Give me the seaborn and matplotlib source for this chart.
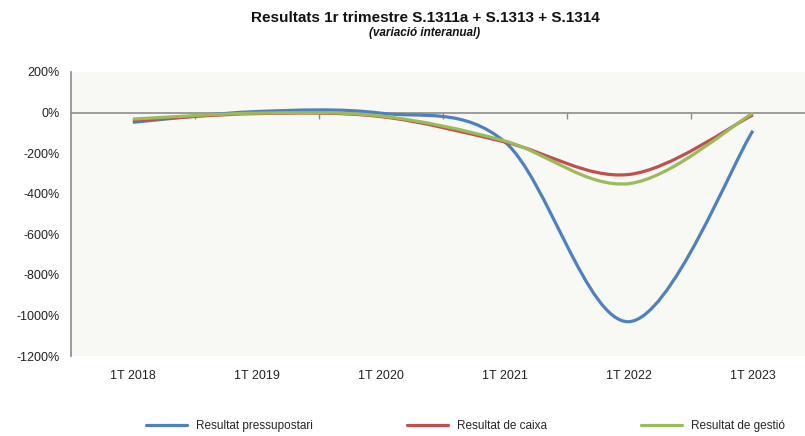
import numpy as np
import matplotlib
matplotlib.use("Agg")
import matplotlib.pyplot as plt
from matplotlib.path import Path
from matplotlib.patches import PathPatch
from matplotlib.lines import Line2D
import seaborn as sns

# data (% interannual change)
periodes = ["1T 2018", "1T 2019", "1T 2020", "1T 2021", "1T 2022", "1T 2023"]
pressupostari = [-48, 5, -3, -145, -1030, -90]
caixa = [-40, -5, -20, -145, -305, -12]
gestio = [-32, -3, -17, -140, -350, -3]

series = [
    ("Resultat pressupostari", pressupostari, "#4F81BD"),
    ("Resultat de caixa", caixa, "#C0504D"),
    ("Resultat de gestió", gestio, "#9BBB59"),
]

sns.set_theme(style="white")
plt.rcParams["font.family"] = ["Liberation Sans", "DejaVu Sans"]

fig = plt.figure(figsize=(8.05, 4.36), dpi=100)
ax = fig.add_axes([0.088, 0.183, 0.912, 0.652])
ax.set_facecolor("#F8F8F4")


# smoothed line like excel: bezier through the points (catmull-rom control points)
def smooth_path(xs, ys):
    pts = np.column_stack([xs, ys]).astype(float)
    ext = np.vstack([pts[0], pts, pts[-1]])
    verts = [pts[0]]
    codes = [Path.MOVETO]
    for i in range(len(pts) - 1):
        p0, p1, p2, p3 = ext[i], ext[i + 1], ext[i + 2], ext[i + 3]
        verts += [p1 + (p2 - p0) / 6, p2 - (p3 - p1) / 6, p2]
        codes += [Path.CURVE4] * 3
    return Path(verts, codes)


x = np.arange(len(periodes))
handles = []
for name, vals, col in series:
    patch = PathPatch(smooth_path(x, vals), facecolor="none", edgecolor=col,
                      lw=2.3, capstyle="butt", joinstyle="round", zorder=3)
    ax.add_patch(patch)
    handles.append(Line2D([], [], color=col, lw=2.3, label=name))

ax.set_xlim(-0.5, 5.42)
ax.set_ylim(-1200, 200)
ax.set_yticks(range(-1200, 201, 200))
ax.set_yticklabels([f"{v}%" for v in range(-1200, 201, 200)])
ax.set_xticks(x)
ax.set_xticklabels(periodes)
ax.tick_params(axis="x", length=0, pad=10, labelsize=9, colors="#222222")
ax.tick_params(axis="y", length=0, pad=8, labelsize=9, colors="#222222")

for s in ["top", "right", "bottom"]:
    ax.spines[s].set_visible(False)
ax.spines["left"].set_color("#8C8C8C")
ax.spines["left"].set_linewidth(1.2)

# category axis crossing at 0%
ax.axhline(0, color="#8C8C8C", lw=1.2, zorder=2)
sec = ax.secondary_xaxis(1200 / 1400)
sec.set_xticks(np.arange(0.5, 5, 1))
sec.set_xticklabels([])
sec.tick_params(axis="x", direction="in", length=4, width=1, colors="#8C8C8C")
for s in sec.spines.values():
    s.set_visible(False)

fig.text(0.529, 0.958, "Resultats 1r trimestre S.1311a + S.1313 + S.1314",
         ha="center", va="center", fontsize=11, fontweight="bold", color="#111111")
fig.text(0.527, 0.924, "(variació interanual)", ha="center", va="center",
         fontsize=8.5, fontweight="bold", fontstyle="italic", color="#111111")

fig.legend(handles=handles, loc="center", bbox_to_anchor=(0.578, 0.023), ncol=3,
           frameon=False, fontsize=8.5, handlelength=3.5, handletextpad=0.7,
           columnspacing=8.0)

fig.savefig("out.png", dpi=100)
